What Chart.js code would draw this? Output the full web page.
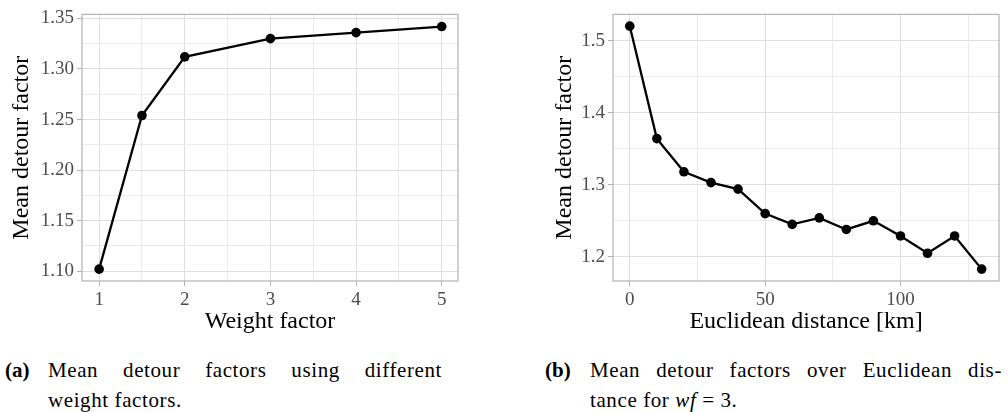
<!DOCTYPE html>
<html>
<head>
<meta charset="utf-8">
<script src="https://cdn.jsdelivr.net/npm/chart.js@4/dist/chart.umd.min.js"></script>
<style>
body { margin: 0; width: 1008px; height: 412px; background: #fff; position: relative; overflow: hidden; font-family: "Liberation Serif", serif; }
#chartA { position: absolute; left: 0; top: 0; }
#chartB { position: absolute; left: 530px; top: 0; }
.cap { position: absolute; top: 355px; font-size: 21px; line-height: 30px; color: #000; letter-spacing: 0.6px; }
.cap .lbl { position: absolute; left: 0; top: 0; font-weight: bold; letter-spacing: 0; }
.cap .txt { position: absolute; top: 0; }
.cap .j { text-align: justify; text-align-last: justify; }
</style>
</head>
<body>
<canvas id="chartA" width="470" height="340"></canvas>
<canvas id="chartB" width="478" height="340"></canvas>

<div class="cap" style="left:5px">
  <span class="lbl">(a)</span>
  <div class="txt" style="left:43px;width:394px">
    <div class="j">Mean detour factors using different</div>
    <div>weight factors.</div>
  </div>
</div>
<div class="cap" style="left:545px">
  <span class="lbl">(b)</span>
  <div class="txt" style="left:45px;width:412px">
    <div class="j">Mean detour factors over Euclidean dis-</div>
    <div>tance for <i>wf</i> = 3.</div>
  </div>
</div>

<script>
// (a) facteur de poids
const poids = [1, 1.5, 2, 3, 4, 5]
const detourPoids = [1.102, 1.254, 1.312, 1.330, 1.336, 1.342]
const ticksXA = [1, 2, 3, 4, 5]
const mineursXA = [1.5, 2.5, 3.5, 4.5]
const ticksYA = [1.10, 1.15, 1.20, 1.25, 1.30, 1.35]
const mineursYA = [1.125, 1.175, 1.225, 1.275, 1.325]

// (b) distance euclidienne
const distances = [0, 10, 20, 30, 40, 50, 60, 70, 80, 90, 100, 110, 120, 130]
const detourDistance = [1.520, 1.364, 1.318, 1.303, 1.294, 1.260, 1.245, 1.254, 1.238, 1.250, 1.229, 1.205, 1.229, 1.183]
const ticksXB = [0, 50, 100]
const mineursXB = [25, 75, 125]
const ticksYB = [1.2, 1.3, 1.4, 1.5]
const mineursYB = [1.25, 1.35, 1.45]

const serif = 'Liberation Serif'

const estDans = (liste, v) => liste.some((t) => Math.abs(t - v) < 1e-6)

// cadre gris autour du panneau
const cadre = {
    id: 'cadre',
    beforeDatasetsDraw(chart) {
        const a = chart.chartArea
        const ctx = chart.ctx
        ctx.save()
        ctx.strokeStyle = '#B3B3B3'
        ctx.lineWidth = 1.2
        ctx.strokeRect(a.left, a.top, a.right - a.left, a.bottom - a.top)
        ctx.restore()
    }
}

function axe(min, max, majeurs, mineurs, format, titre, taille, padTitre) {
    const tous = majeurs.concat(mineurs).sort((p, q) => p - q)
    return {
        type: 'linear',
        min: min,
        max: max,
        afterBuildTicks: (scale) => { scale.ticks = tous.map((v) => ({ value: v })) },
        afterFit: (scale) => {
            if (scale.isHorizontal()) scale.height = taille
            else scale.width = taille
        },
        ticks: {
            autoSkip: false,
            maxRotation: 0,
            padding: 3,
            color: '#4D4D4D',
            font: { family: serif, size: 19 },
            callback: (v) => estDans(majeurs, v) ? format(v) : ''
        },
        grid: {
            color: (c) => c.tick && estDans(majeurs, c.tick.value) ? '#DEDEDE' : '#EBEBEB',
            lineWidth: 1,
            tickLength: 5,
            tickColor: (c) => c.tick && estDans(majeurs, c.tick.value) ? '#B3B3B3' : 'rgba(0,0,0,0)'
        },
        border: { display: false },
        title: {
            display: true,
            text: titre,
            color: '#000',
            font: { family: serif, size: 24 },
            padding: padTitre
        }
    }
}

function serie(xs, ys) {
    return {
        data: xs.map((x, i) => ({ x: x, y: ys[i] })),
        borderColor: '#000',
        backgroundColor: '#000',
        borderWidth: 2.3,
        pointRadius: 4.8,
        pointHoverRadius: 4.8,
        pointBackgroundColor: '#000',
        pointBorderWidth: 0,
        tension: 0,
        clip: false
    }
}

const configA = {
    type: 'line',
    data: { datasets: [serie(poids, detourPoids)] },
    options: {
        responsive: false,
        animation: false,
        layout: { padding: { top: 13, right: 12, left: 0, bottom: 0 } },
        plugins: { legend: { display: false }, tooltip: { enabled: false } },
        scales: {
            x: axe(0.80, 5.19, ticksXA, mineursXA, (v) => String(v), 'Weight factor', 59, { top: 0, bottom: 4 }),
            y: axe(1.0903, 1.3540, ticksYA, mineursYA, (v) => v.toFixed(2), 'Mean detour factor', 82, { top: 7, bottom: 0 })
        }
    },
    plugins: [cadre]
}

const configB = {
    type: 'line',
    data: { datasets: [serie(distances, detourDistance)] },
    options: {
        responsive: false,
        animation: false,
        layout: { padding: { top: 13, right: 9, left: 0, bottom: 0 } },
        plugins: { legend: { display: false }, tooltip: { enabled: false } },
        scales: {
            x: axe(-6.2, 136.4, ticksXB, mineursXB, (v) => String(v), 'Euclidean distance [km]', 59, { top: 0, bottom: 4 }),
            y: axe(1.1665, 1.5363, ticksYB, mineursYB, (v) => v.toFixed(1), 'Mean detour factor', 83, { top: 20, bottom: 0 })
        }
    },
    plugins: [cadre]
}

new Chart(document.getElementById('chartA'), configA)
new Chart(document.getElementById('chartB'), configB)
</script>
</body>
</html>
